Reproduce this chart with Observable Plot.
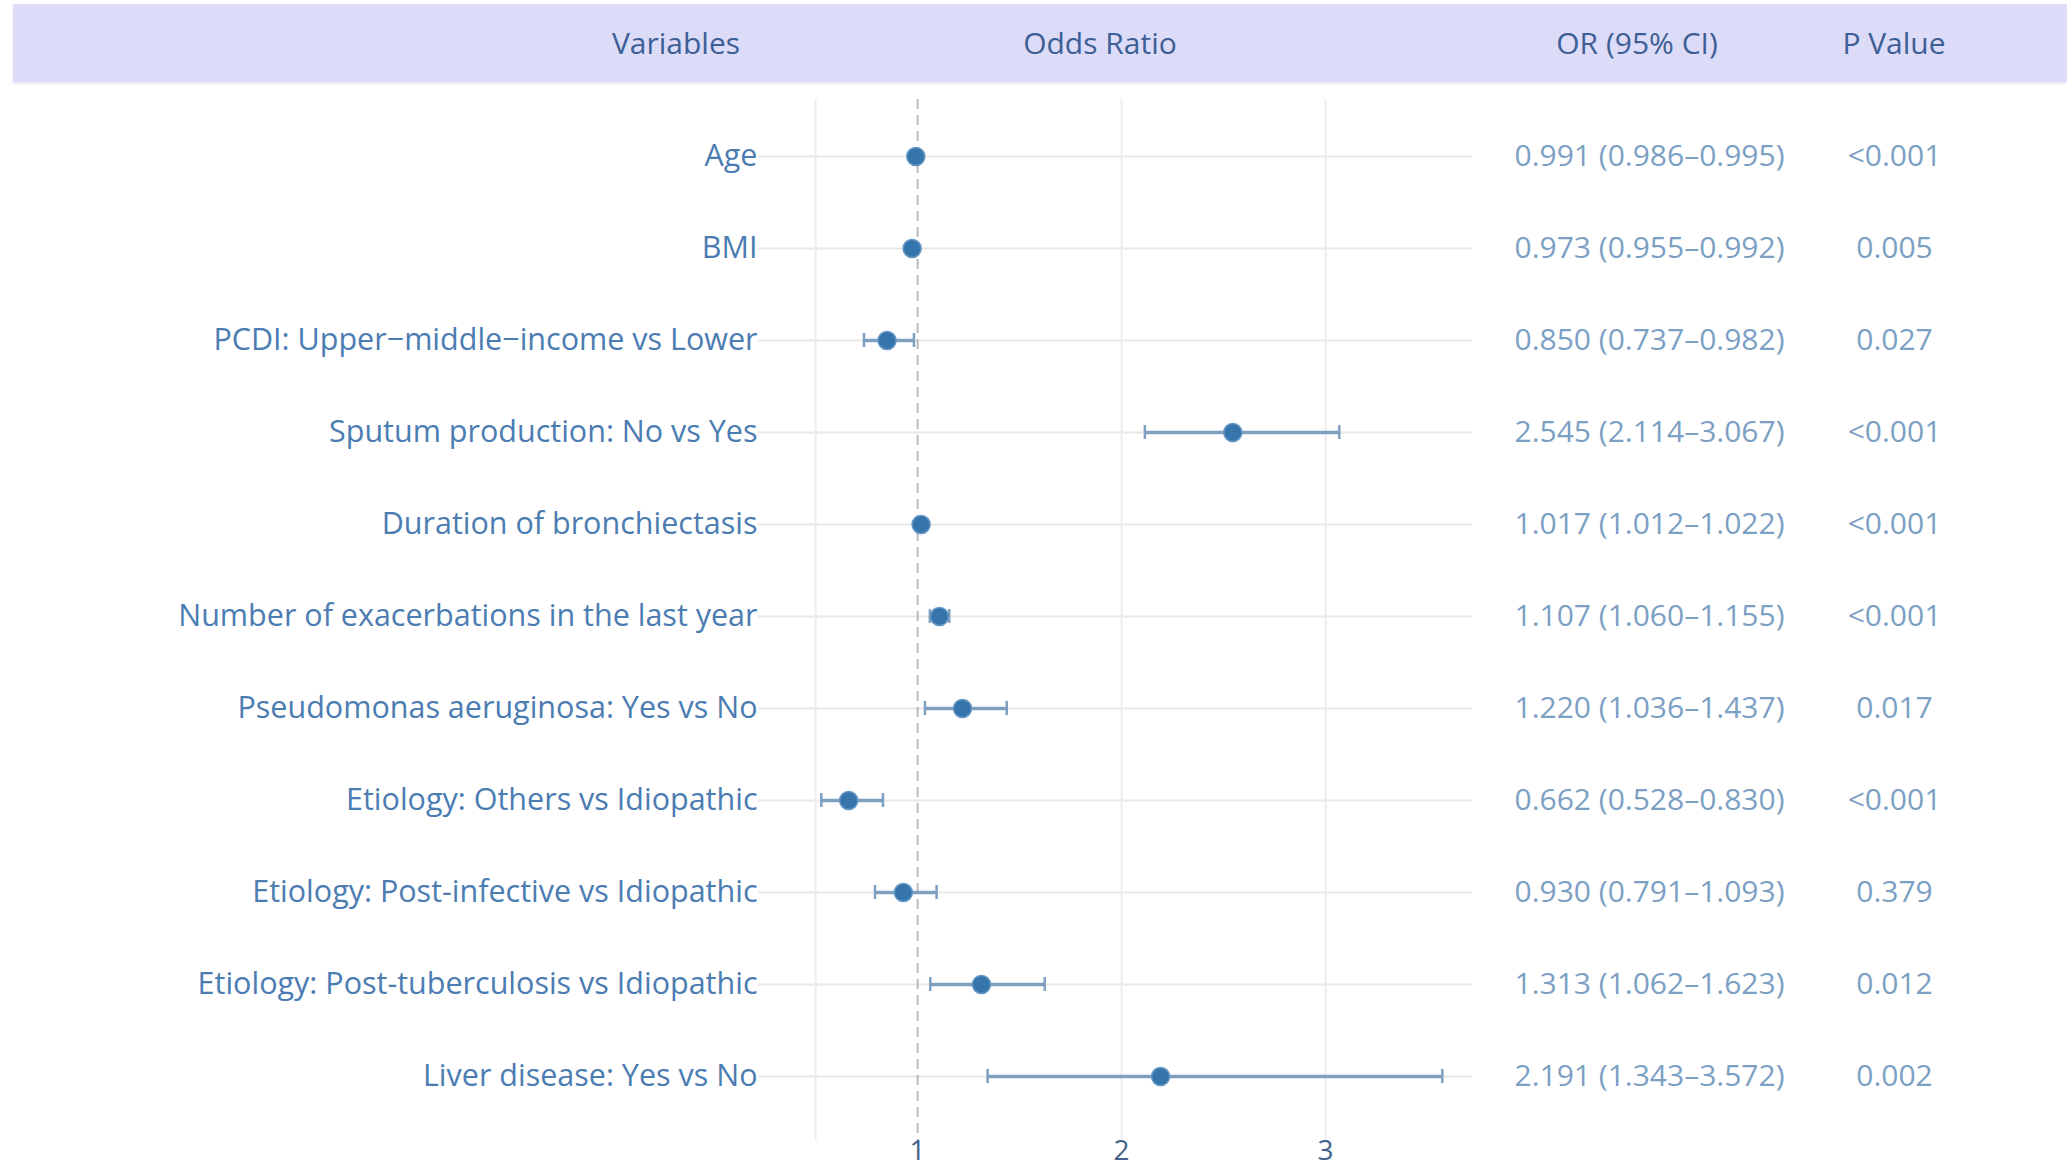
<!DOCTYPE html>
<html><head><meta charset="utf-8">
<script src="https://cdn.jsdelivr.net/npm/d3@7"></script>
<script src="https://cdn.jsdelivr.net/npm/@observablehq/plot@0.6"></script>
<style>
body{margin:0;background:#fff;font-family:"Open Sans",sans-serif;}
#wrap{position:relative;width:2067px;height:1170px;overflow:hidden;background:#fff;}
#header{position:absolute;left:13px;top:4px;width:2054px;height:78px;background:#dcdcf9;box-shadow:0 2px 3px rgba(160,160,200,0.25);}
.h{position:absolute;top:4px;line-height:78px;transform:translateX(-50%);color:#3d5f95;font-size:30px;white-space:nowrap;}
#chart{position:absolute;left:0;top:82px;line-height:0;}
</style></head>
<body>
<div id="wrap">
  <div id="header"></div>
  <div class="h" style="left:676px">Variables</div>
  <div class="h" style="left:1100px">Odds Ratio</div>
  <div class="h" style="left:1637px">OR (95% CI)</div>
  <div class="h" style="left:1894px">P Value</div>
  <div id="chart"></div>
</div>
<script>
const variables = [
  "Age",
  "BMI",
  "PCDI: Upper\u2212middle\u2212income vs Lower",
  "Sputum production: No vs Yes",
  "Duration of bronchiectasis",
  "Number of exacerbations in the last year",
  "Pseudomonas aeruginosa: Yes vs No",
  "Etiology: Others vs Idiopathic",
  "Etiology: Post-infective vs Idiopathic",
  "Etiology: Post-tuberculosis vs Idiopathic",
  "Liver disease: Yes vs No"
];
const oddsRatio = [0.991, 0.973, 0.850, 2.545, 1.017, 1.107, 1.220, 0.662, 0.930, 1.313, 2.191];
const ciLow     = [0.986, 0.955, 0.737, 2.114, 1.012, 1.060, 1.036, 0.528, 0.791, 1.062, 1.343];
const ciHigh    = [0.995, 0.992, 0.982, 3.067, 1.022, 1.155, 1.437, 0.830, 1.093, 1.623, 3.572];
const pValues   = ["<0.001", "0.005", "0.027", "<0.001", "<0.001", "<0.001", "0.017", "<0.001", "0.379", "0.012", "0.002"];
const xTicks = [1, 2, 3];
const gridX = [0.5, 2, 3];
const refLine = [1];

const rows = variables.map((v, i) => ({
  variable: v,
  or: oddsRatio[i],
  lo: ciLow[i],
  hi: ciHigh[i],
  p: pValues[i],
  label: `${oddsRatio[i].toFixed(3)} (${ciLow[i].toFixed(3)}\u2013${ciHigh[i].toFixed(3)})`
}));

const barColor = "#7f9fc0";
const capInset = 39;
const chart = Plot.plot({
  width: 2067,
  height: 1088,
  marginLeft: 758,
  marginRight: 595,
  marginTop: 17,
  marginBottom: 30,
  style: {fontFamily: "'Open Sans', sans-serif", background: "transparent"},
  x: {domain: [0.22, 3.72]},
  y: {type: "band", domain: variables, padding: 0, insetTop: 6.6, insetBottom: 13.6},
  marks: [
    Plot.gridY({stroke: "#e8e8e8", strokeOpacity: 1, strokeWidth: 2}),
    Plot.ruleX(gridX, {stroke: "#ededf0", strokeWidth: 2}),
    Plot.ruleX(refLine, {stroke: "#b9b9bd", strokeWidth: 2, strokeDasharray: "10,6"}),
    Plot.ruleY(rows, {y: "variable", x1: "lo", x2: "hi", stroke: barColor, strokeWidth: 3.5}),
    Plot.tickX(rows, {x: "lo", y: "variable", stroke: barColor, strokeWidth: 2.5, insetTop: capInset, insetBottom: capInset}),
    Plot.tickX(rows, {x: "hi", y: "variable", stroke: barColor, strokeWidth: 2.5, insetTop: capInset, insetBottom: capInset}),
    Plot.dot(rows, {x: "or", y: "variable", r: 9, fill: "#3674ac", stroke: "#6496c4", strokeWidth: 1.5}),
    Plot.text(rows, {y: "variable", text: "label", frameAnchor: "left", dx: 891, textAnchor: "middle", fill: "#7c9fc4", fontSize: 30}),
    Plot.text(rows, {y: "variable", text: "p", frameAnchor: "left", dx: 1136, textAnchor: "middle", fill: "#7c9fc4", fontSize: 30}),
    Plot.axisY({tickSize: 0, tickPadding: 1, fontSize: 30.5, color: "#4b7cb2", label: null}),
    Plot.axisX({ticks: xTicks, tickFormat: d3.format("d"), tickSize: 0, tickPadding: 0, fontSize: 28, color: "#45648c", label: null})
  ]
});
document.getElementById("chart").appendChild(chart);
</script>
</body></html>
